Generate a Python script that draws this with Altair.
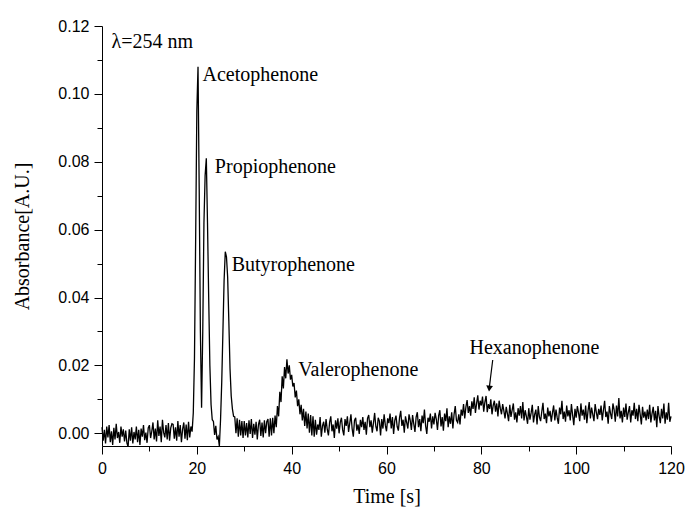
import altair as alt
import pandas as pd

time_step = 0.25
seg_000 = [18, -22, 10, -30, 20, -12, 24, -26, 6, -34, 16, -18, 28, -14, 4, -28, 20, -10, 12, -24]
seg_005 = [8, -28, -40, 12, -22, 18, -30, 4, -18, 20, -26, 10, -34, 14, -10, 24, -20, 2, -28, 16]
seg_010 = [24, -14, 6, 32, -18, 14, -24, 38, -8, 20, -26, 40, 2, -12, 24, -18, 30, -22, 16, 28]
seg_015 = [26, -16, 18, -22, 36, -10, 24, -26, 12, 32, -16, 26, -20, 34, -12, 20, 5, 60, 220, 570]
seg_020 = [950, 1080, 720, 300, 75, 300, 620, 760, 810, 620, 400, 200, 85, 40, 35, -5, 22, -18, -10, -38]
seg_025 = [40, 150, 300, 450, 535, 520, 460, 330, 190, 110, 72, 50, 48, 0, 44, -10, 40, -6, 36, -14]
seg_030 = [36, -6, 30, -12, 38, -2, 42, -14, 28, -4, 34, -18, 26, 40, -8, 32, -12, 38, 0, 34]
seg_035 = [42, -10, 44, -6, 46, 0, 52, 18, 80, 50, 122, 92, 168, 132, 195, 162, 218, 176, 200, 158]
seg_040 = [172, 138, 148, 106, 126, 80, 100, 56, 84, 38, 72, 22, 64, 14, 58, 2, 54, -6, 50, -10]
seg_045 = [40, -4, 26, 10, 48, -10, 22, 34, 2, 42, 12, -6, 32, 50, 6, 26, -14, 38, 14, 44]
seg_050 = [0, 32, 46, 10, -6, 42, 22, 50, 4, 30, 56, 14, -10, 38, 46, 8, 26, -2, 40, 18]
seg_055 = [48, 10, 34, -4, 44, 54, 18, 38, 2, 30, 60, 20, 6, 46, 36, -6, 42, 14, 56, 24]
seg_060 = [6, 44, 30, 58, 14, 48, -2, 38, 52, 20, 8, 46, 66, 22, 40, 2, 50, 32, 14, 56]
seg_065 = [38, 10, 54, 28, 4, 48, 62, 18, 42, 6, 52, 30, 70, 22, -2, 46, 34, 58, 14, 50]
seg_070 = [26, 60, 42, 10, 52, 68, 20, 48, 8, 58, 36, 74, 18, 50, 28, 62, 14, 56, 80, 38]
seg_075 = [32, 56, 26, 70, 52, 86, 44, 78, 98, 60, 80, 52, 94, 72, 106, 60, 88, 112, 70, 96]
seg_080 = [82, 108, 64, 92, 110, 62, 86, 72, 100, 56, 82, 96, 64, 88, 50, 96, 74, 56, 86, 66]
seg_085 = [44, 78, 58, 36, 84, 48, 68, 88, 40, 62, 32, 74, 52, 80, 44, 92, 38, 68, 50, 28]
seg_090 = [74, 40, 60, 84, 32, 56, 70, 26, 80, 48, 36, 64, 90, 42, 58, 30, 76, 50, 66, 34]
seg_095 = [60, 82, 38, 70, 46, 28, 76, 56, 96, 42, 64, 34, 82, 50, 68, 38, 86, 54, 24, 72]
seg_100 = [46, 80, 60, 36, 88, 52, 70, 40, 82, 30, 66, 92, 44, 76, 56, 36, 86, 62, 42, 72]
seg_105 = [54, 82, 38, 68, 96, 48, 64, 28, 80, 58, 42, 88, 70, 34, 82, 50, 104, 44, 66, 32]
seg_110 = [76, 48, 88, 40, 62, 80, 32, 68, 52, 90, 42, 72, 36, 84, 56, 26, 78, 46, 64, 38]
seg_115 = [70, 42, 84, 32, 58, 78, 38, 66, 18, 80, 50, 30, 72, 44, 88, 28, 62, 40, 90, 34]
seg_120 = [50]

segments = [seg_000, seg_005, seg_010, seg_015, seg_020, seg_025, seg_030, seg_035,
            seg_040, seg_045, seg_050, seg_055, seg_060, seg_065, seg_070, seg_075,
            seg_080, seg_085, seg_090, seg_095, seg_100, seg_105, seg_110, seg_115, seg_120]
absorb_e4 = [v for seg in segments for v in seg]
absorb = [v / 10000 for v in absorb_e4]
times = [i * time_step for i in range(len(absorb))]
trace = pd.DataFrame({"t": times, "a": absorb})

# Annotations
label_text = ["λ=254 nm", "Acetophenone", "Propiophenone", "Butyrophenone", "Valerophenone", "Hexanophenone"]
label_t = [2.0, 21.2, 23.8, 27.35, 41.4, 77.5]
label_v = [0.1153, 0.1056, 0.0785, 0.0496, 0.0187, 0.0251]
labels = pd.DataFrame({"t": label_t, "v": label_v, "text": label_text})

arrow_t = [82.4]
arrow_t2 = [81.72]
arrow_v = [0.0216]
arrow_v2 = [0.0139]
arrow = pd.DataFrame({"t": arrow_t, "t2": arrow_t2, "v": arrow_v, "v2": arrow_v2})
head = pd.DataFrame({"t": [81.68], "v": [0.0132]})

x_scale = alt.Scale(domain=[0, 120], nice=False, zero=False)
y_scale = alt.Scale(domain=[-0.00374, 0.12], nice=False, zero=False)

x_axis = alt.Axis(
    title="Time [s]",
    values=list(range(0, 121, 10)),
    labelExpr="round(datum.value) % 20 == 0 ? datum.label : ''",
    tickSize={"condition": {"test": "round(datum.value) % 20 == 0", "value": 8}, "value": 5},
    labelFont="Liberation Sans", labelFontSize=16, labelPadding=6, labelColor="black",
    titleFont="Liberation Serif", titleFontSize=20, titleFontWeight="normal", titleColor="black",
    titleX=284.5, titleY=50, titleBaseline="middle",
    domainColor="black", tickColor="black", grid=False, labelFlush=False, labelOverlap=False,
)
y_axis = alt.Axis(
    title="Absorbance[A.U.]",
    values=[round(i * 0.01, 2) for i in range(13)],
    labelExpr="round(datum.value * 100) % 2 == 0 ? format(datum.value, '.2f') : ''",
    tickSize={"condition": {"test": "round(datum.value * 100) % 2 == 0", "value": 8}, "value": 5},
    labelFont="Liberation Sans", labelFontSize=16, labelPadding=5, labelColor="black",
    titleFont="Liberation Serif", titleFontSize=20, titleFontWeight="normal", titleColor="black",
    titleX=-80, titleY=210, titleBaseline="middle",
    domainColor="black", tickColor="black", grid=False, labelFlush=False, labelOverlap=False,
)

line = alt.Chart(trace).mark_line(color="black", strokeWidth=1.3).encode(
    x=alt.X("t:Q", scale=x_scale, axis=x_axis),
    y=alt.Y("a:Q", scale=y_scale, axis=y_axis),
)

text = alt.Chart(labels).mark_text(
    align="left", baseline="middle", font="Liberation Serif", fontSize=20, color="black"
).encode(
    x=alt.X("t:Q", scale=x_scale, axis=x_axis),
    y=alt.Y("v:Q", scale=y_scale, axis=y_axis),
    text="text:N",
)

rule = alt.Chart(arrow).mark_rule(color="black", strokeWidth=1.2).encode(
    x=alt.X("t:Q", scale=x_scale, axis=x_axis),
    x2="t2:Q",
    y=alt.Y("v:Q", scale=y_scale, axis=y_axis),
    y2="v2:Q",
)

tip = alt.Chart(head).mark_point(
    shape="triangle-down", filled=True, size=45, angle=6, color="black", opacity=1
).encode(
    x=alt.X("t:Q", scale=x_scale, axis=x_axis),
    y=alt.Y("v:Q", scale=y_scale, axis=y_axis),
)

chart = alt.layer(line, text, rule, tip).properties(
    width=569, height=420,
    autosize="none",
    padding={"left": 102, "top": 26, "right": 15, "bottom": 65},
    background="white",
).configure_view(stroke=None)

chart.save("out.html", embed_options={"renderer": "svg", "actions": False})
